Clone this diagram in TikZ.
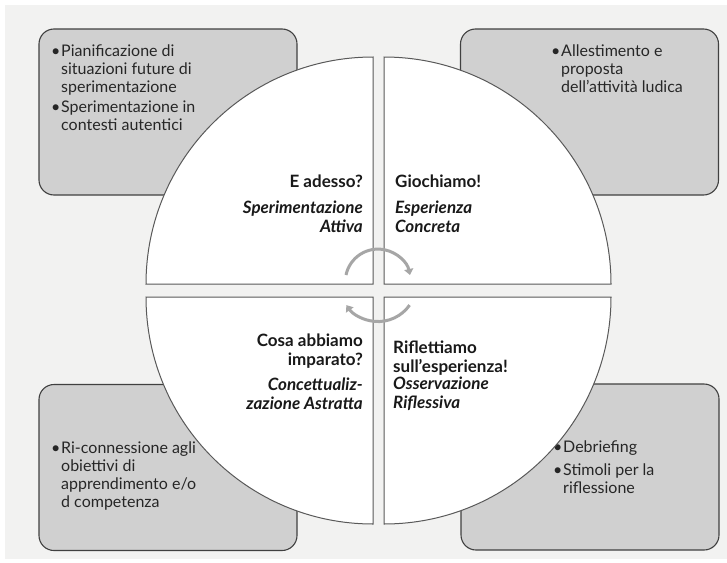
\documentclass[tikz,border=0pt]{standalone}
\usepackage{fontspec}
\setmainfont{Lato}
\usetikzlibrary{arrows.meta}
\definecolor{bggray}{RGB}{242,242,241}
\definecolor{boxgray}{RGB}{208,208,208}
\definecolor{cyclegray}{RGB}{166,166,166}
\tikzset{phasebox/.style={fill=boxgray,draw=black!75,line width=1.1pt,rounded corners=15pt,minimum width=258pt,minimum height=166pt}}
\tikzset{quarter/.style={fill=white,draw=black!65,line width=1pt}}
\newcommand{\bul}{\makebox[10pt][l]{\textbullet}}
\newcommand{\ind}{\hspace*{10pt}}

\begin{document}
\begin{tikzpicture}[x=1pt,y=-1pt]
\tikzset{boxtext/.style={anchor=base west,align=left,inner sep=0pt,text=black!85,font=\fontsize{16}{18}\selectfont}}
\tikzset{qtitle/.style={inner sep=0pt,text=black!90,font=\fontsize{17}{18.5}\selectfont\bfseries}}
\tikzset{qsub/.style={inner sep=0pt,text=black!90,font=\fontsize{17}{19}\selectfont\bfseries\itshape}}
\useasboundingbox (0,0) rectangle (727,562);
\fill[bggray] (5,5) rectangle (727,559);
% boxes behind the circle (base = last line)
\node[phasebox] (tlbox) at (168,112) {};
\node[phasebox] (trbox) at (589.5,112) {};
\node[phasebox] (blbox) at (168,467.5) {};
\node[phasebox] (brbox) at (590,467) {};
\node[boxtext] (tltext) at (51,130) {\bul Pianificazione di\\ \ind situazioni future di\\ \ind sperimentazione\\[2pt] \bul Sperimentazione in\\ \ind contesti autentici};
\node[boxtext] (trtext) at (551,92) {\bul Allestimento e\\ \ind proposta\\ \ind dell'attività ludica};
\node[boxtext] (bltext) at (51,507) {\bul Ri-connessione agli\\ \ind obiettivi di\\ \ind apprendimento e/o\\ \ind d competenza};
\node[boxtext] (brtext) at (553,493) {\bul Debriefing\\[5pt] \bul Stimoli per la\\ \ind riflessione};
% the four quarters
\draw[quarter] (373,284) -- ++(-227,0) arc[start angle=180,end angle=270,radius=227] -- cycle;
\draw[quarter] (384,284) -- ++(0,-227) arc[start angle=270,end angle=360,radius=227] -- cycle;
\draw[quarter] (384,297) -- ++(227,0) arc[start angle=0,end angle=90,radius=227] -- cycle;
\draw[quarter] (373,297) -- ++(0,227) arc[start angle=90,end angle=180,radius=227] -- cycle;
% labels
\node[qtitle,anchor=base east] (adesso) at (363,187) {E adesso?};
\node[qsub,anchor=base east,align=right] (attiva) at (363,232) {Sperimentazione\\Attiva};
\node[qtitle,anchor=base west] (giochiamo) at (395,187) {Giochiamo!};
\node[qsub,anchor=base west,align=left] (concreta) at (395,232) {Esperienza\\Concreta};
\node[qtitle,anchor=base east,align=right] (imparato) at (363,365) {Cosa abbiamo\\imparato?};
\node[qsub,anchor=base east,align=right] (astratta) at (363,409) {Concettualiz-\\zazione Astratta};
\node[qtitle,anchor=base west,align=left] (riflettiamo) at (393,372) {Riflettiamo\\sull'esperienza!};
\node[qsub,anchor=base west,align=left] (riflessiva) at (393,408) {Osservazione\\Riflessiva};
% cycle arrows
\tikzset{cycle/.style={draw=cyclegray,line width=3pt,-{Triangle[length=6pt,width=9pt]}}}
\draw[cycle] (346,275) arc[start angle=192,end angle=348,radius=32.7];
\draw[cycle] (409.6,305.1) arc[start angle=35,end angle=145,radius=38.6];
\end{tikzpicture}
\end{document}
